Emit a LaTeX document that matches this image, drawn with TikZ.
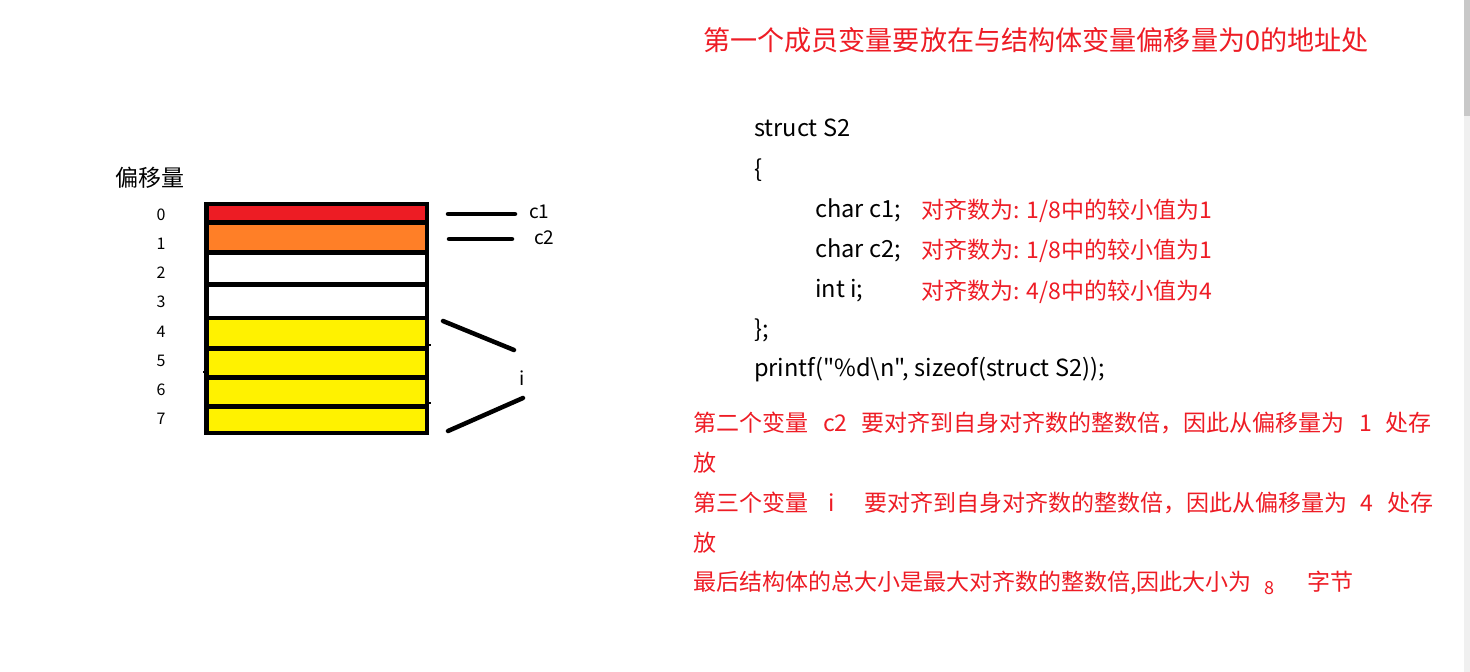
\documentclass[tikz,border=0pt]{standalone}
\usepackage{fontspec}
\setmainfont{Noto Sans CJK SC}
\newfontfamily\plainfont{Noto Sans CJK SC}
\definecolor{tred}{HTML}{EE1C25}
\definecolor{cred}{HTML}{ED1C24}
\definecolor{corange}{HTML}{FF7F27}
\definecolor{cyellow}{HTML}{FFF200}
\definecolor{sbtrack}{HTML}{F0F0F0}
\definecolor{sbthumb}{HTML}{C8C8C8}
\tikzset{
  cell/.style={draw=black, line width=4.5pt},
  mark line/.style={draw=black, line width=4.5pt, line cap=round},
  txt/.style={inner sep=0pt, anchor=west, text height=0.8em, text depth=0.2em},
  code/.style={txt, yshift=-4pt, font=\plainfont\fontsize{23.6}{27}\selectfont, text=black},
  note/.style={txt, yshift=-4pt, font=\fontsize{23}{27}\selectfont, text=tred},
  para/.style={txt, yshift=-5pt, font=\fontsize{23}{27}\selectfont, text=tred},
  offs/.style={inner sep=0pt, yshift=-3pt, text height=0.8em, text depth=0.2em, font=\fontsize{16}{19}\selectfont},
  lbl/.style={txt, yshift=-3pt, font=\fontsize{19}{23}\selectfont},
}
\begin{document}
\begin{tikzpicture}[x=1pt,y=-1pt]
\useasboundingbox (0,0) rectangle (1470,672);
\fill[white] (0,0) rectangle (1470,672);
% scrollbar
\fill[sbtrack] (1464,0) rectangle (1470,672);
\fill[sbthumb] (1464,0) rectangle (1470,116);

% memory cells
\draw[cell, fill=cred]    (206.7,203.8) rectangle (427,222.5);
\draw[cell, fill=corange] (206.7,222.5) rectangle (427,252.5);
\draw[cell, fill=white]   (206.7,252.5) rectangle (427,284.5);
\draw[cell, fill=white]   (206.7,284.5) rectangle (427,318);
\draw[cell, fill=cyellow] (206.7,318) rectangle (427,348.5);
\draw[cell, fill=cyellow] (206.7,348.5) rectangle (427,377.5);
\draw[cell, fill=cyellow] (206.7,377.5) rectangle (427,406.5);
\draw[cell, fill=cyellow] (206.7,406.5) rectangle (427,433);
% tiny stray ticks
\draw[line width=2pt] (203,372) -- (206,372);
\draw[line width=2pt] (428,345) -- (431,345);
\draw[line width=2pt] (428,403) -- (431,403);

% offsets
\node[txt, yshift=-4pt, font=\fontsize{23}{27}\selectfont] (hdr) at (115,179) {偏移量};
\node[offs] (o0) at (161,214) {0};
\node[offs] (o1) at (161,243) {1};
\node[offs] (o2) at (161,272) {2};
\node[offs] (o3) at (161,301) {3};
\node[offs] (o4) at (161,331) {4};
\node[offs] (o5) at (161,360) {5};
\node[offs] (o6) at (161,389) {6};
\node[offs] (o7) at (161,418) {7};

% marker lines and labels
\coordinate (c1a) at (448,214); \coordinate (c1b) at (515,214);
\coordinate (c2a) at (449,239); \coordinate (c2b) at (512,239);
\coordinate (i1a) at (443,321); \coordinate (i1b) at (514,350);
\coordinate (i2a) at (448,431); \coordinate (i2b) at (523,398);
\draw[mark line] (c1a) -- (c1b);
\draw[mark line] (c2a) -- (c2b);
\draw[mark line] (i1a) -- (i1b);
\draw[mark line] (i2a) -- (i2b);
\node[lbl] (lc1) at (529,212) {c1};
\node[lbl] (lc2) at (534,238) {c2};
\node[lbl] (li) at (519,379) {i};

% title
\node[txt, yshift=-7pt, font=\fontsize{27.1}{31}\selectfont, text=tred] (title) at (703,40) {第一个成员变量要放在与结构体变量偏移量为0的地址处};

% code
\node[code] (s1) at (754,129) {struct S2};
\node[code] (s2) at (754,170) {\{};
\node[code] (s3) at (815,210) {char c1;};
\node[code] (s4) at (815,250) {char c2;};
\node[code] (s5) at (815,290) {int i;};
\node[code] (s6) at (754,330) {\};};
\node[code] (s7) at (754,369) {printf("\%d\textbackslash n", sizeof(struct S2));};
\node[note] (n1) at (921,211) {对齐数为: 1/8中的较小值为1};
\node[note] (n2) at (921,251) {对齐数为: 1/8中的较小值为1};
\node[note] (n3) at (921,292) {对齐数为: 4/8中的较小值为4};

% paragraphs
\node[para] (p1a) at (693,423) {第二个变量};
\node[para] (p1b) at (823,423) {c2};
\node[para] (p1c) at (861,423) {要对齐到自身对齐数的整数倍，因此从偏移量为};
\node[para] (p1d) at (1359,423) {1};
\node[para] (p1e) at (1385,423) {处存};
\node[para] (p2) at (693,463) {放};
\node[para] (p3a) at (693,503) {第三个变量};
\node[para] (p3b) at (828,503) {i};
\node[para] (p3c) at (864,503) {要对齐到自身对齐数的整数倍，因此从偏移量为};
\node[para] (p3d) at (1360,503) {4};
\node[para] (p3e) at (1387,503) {处存};
\node[para] (p4) at (693,543) {放};
\node[para] (p5a) at (693,582) {最后结构体的总大小是最大对齐数的整数倍,因此大小为};
\node[txt, yshift=-4pt, font=\fontsize{18}{22}\selectfont, text=tred] (p5b) at (1264,587) {8};
\node[para] (p5c) at (1307,582) {字节};
\end{tikzpicture}
\end{document}
